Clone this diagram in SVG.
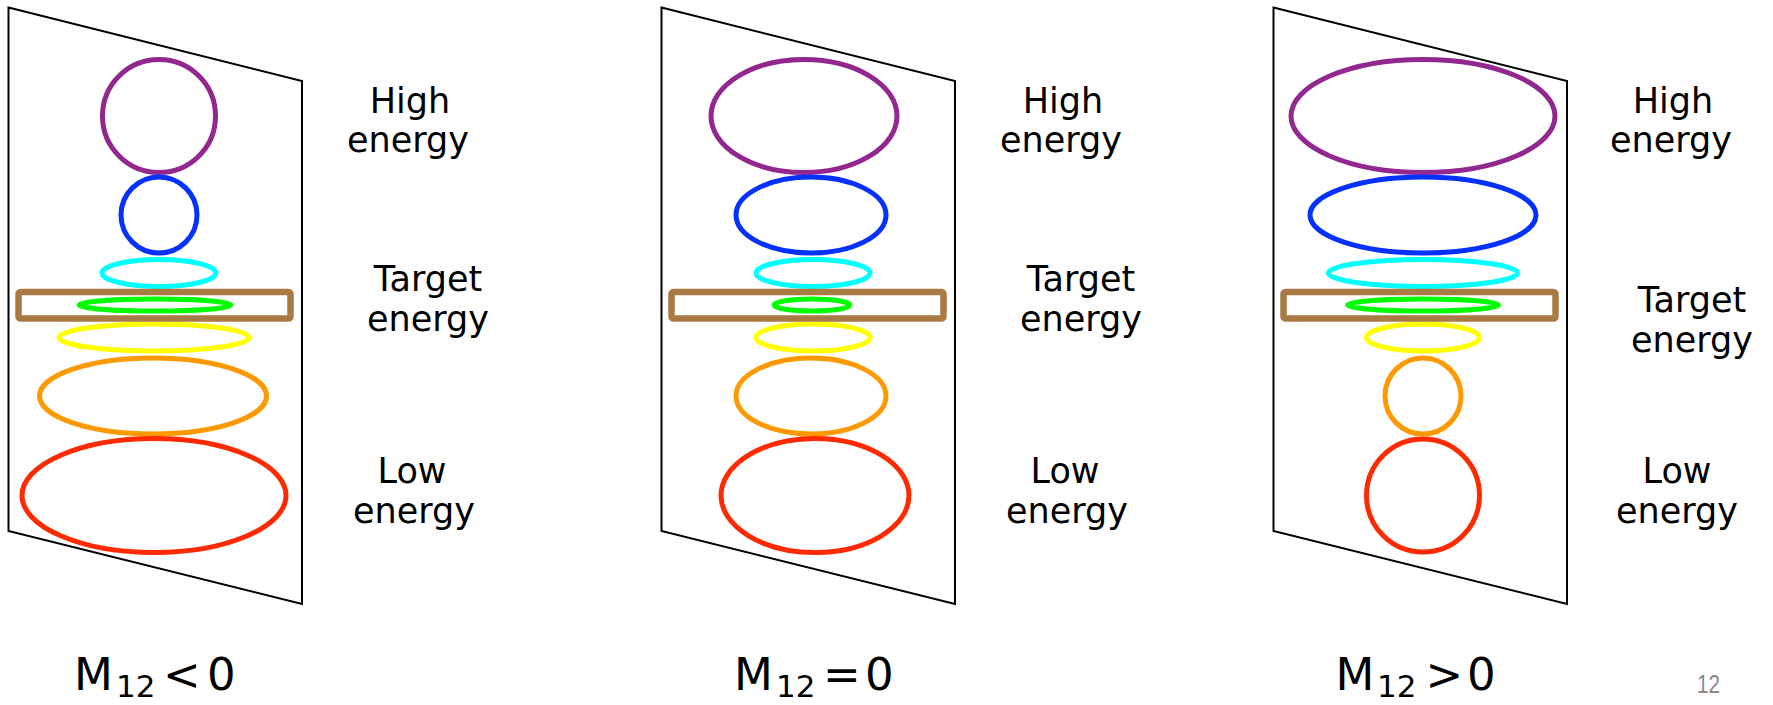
<svg xmlns="http://www.w3.org/2000/svg" width="1773" height="705" viewBox="0 0 1773 705">
<style>
.frame{fill:none;stroke:#000;stroke-width:2}
.e{fill:none;stroke-width:5}
.pu{stroke:#92278F}
.bl{stroke:#0531FF}
.cy{stroke:#00FFFF}
.gr{stroke:#00FF00}
.ye{stroke:#FFFF00}
.or{stroke:#FF9900}
.rd{stroke:#FF2A00}
.win{fill:none;stroke:#A97A43;stroke-width:6.5}
.lab{font-family:"DejaVu Sans",sans-serif;font-size:35px;fill:#000;text-anchor:middle}
.m{font-family:"DejaVu Sans",sans-serif;font-size:45px;fill:#000}
.sub{font-size:31px}
.pg{font-family:"Liberation Sans",sans-serif;font-size:26px;fill:#898989}
</style>
<rect width="1773" height="705" fill="#fff"/>

<g id="panel-neg">
  <polygon class="frame" points="8.5,7.5 302,81 302,604 8.5,531"/>
  <ellipse class="e pu" cx="159" cy="116" rx="56.5" ry="56.5"/>
  <ellipse class="e bl" cx="159" cy="215" rx="38" ry="38"/>
  <ellipse class="e cy" cx="159" cy="273" rx="57" ry="13.5"/>
  <ellipse class="e ye" cx="154" cy="337.5" rx="95" ry="13.5"/>
  <ellipse class="e or" cx="153" cy="396" rx="113.5" ry="38"/>
  <ellipse class="e rd" cx="154" cy="495.5" rx="132" ry="57"/>
  <rect class="win" x="18.5" y="292" width="272" height="26.5" rx="2"/>
  <ellipse class="e gr" cx="155" cy="305" rx="76" ry="6"/>
  <text class="lab" x="410" y="113">High</text>
  <text class="lab" x="408" y="152">energy</text>
  <text class="lab" x="428" y="291">Target</text>
  <text class="lab" x="428" y="331">energy</text>
  <text class="lab" x="412" y="483">Low</text>
  <text class="lab" x="414" y="523">energy</text>
  <text class="m" y="690"><tspan x="74">M</tspan><tspan class="sub" x="116" y="697">12</tspan><tspan x="163" y="690">&lt;</tspan><tspan x="207">0</tspan></text>
</g>

<g id="panel-zero" transform="translate(653,0)">
  <polygon class="frame" points="8.5,7.5 302,81 302,604 8.5,531"/>
  <ellipse class="e pu" cx="151" cy="116" rx="93" ry="56.5"/>
  <ellipse class="e bl" cx="158" cy="215" rx="75" ry="38"/>
  <ellipse class="e cy" cx="160" cy="273" rx="57" ry="13.5"/>
  <ellipse class="e ye" cx="160" cy="337.5" rx="57" ry="13.5"/>
  <ellipse class="e or" cx="158" cy="396" rx="75" ry="38"/>
  <ellipse class="e rd" cx="162" cy="495.5" rx="94" ry="57"/>
  <rect class="win" x="18.5" y="292" width="272" height="26.5" rx="2"/>
  <ellipse class="e gr" cx="159" cy="305" rx="38" ry="6"/>
  <text class="lab" x="410" y="113">High</text>
  <text class="lab" x="408" y="152">energy</text>
  <text class="lab" x="428" y="291">Target</text>
  <text class="lab" x="428" y="331">energy</text>
  <text class="lab" x="412" y="483">Low</text>
  <text class="lab" x="414" y="523">energy</text>
  <text class="m" y="690"><tspan x="81">M</tspan><tspan class="sub" x="123" y="697">12</tspan><tspan x="170" y="690">=</tspan><tspan x="212">0</tspan></text>
</g>

<g id="panel-pos" transform="translate(1265,0)">
  <polygon class="frame" points="8.5,7.5 302,81 302,604 8.5,531"/>
  <ellipse class="e pu" cx="158" cy="116" rx="132" ry="56.5"/>
  <ellipse class="e bl" cx="158" cy="215" rx="113" ry="38"/>
  <ellipse class="e cy" cx="158" cy="273" rx="94.5" ry="13.5"/>
  <ellipse class="e ye" cx="158" cy="337.5" rx="56.5" ry="13.5"/>
  <ellipse class="e or" cx="158" cy="396" rx="38" ry="38"/>
  <ellipse class="e rd" cx="158" cy="495.5" rx="56.5" ry="56.5"/>
  <rect class="win" x="18.5" y="292" width="272" height="26.5" rx="2"/>
  <ellipse class="e gr" cx="158" cy="305" rx="75.5" ry="6"/>
  <text class="lab" x="408" y="113">High</text>
  <text class="lab" x="406" y="152">energy</text>
  <text class="lab" x="427" y="312">Target</text>
  <text class="lab" x="427" y="352">energy</text>
  <text class="lab" x="412" y="483">Low</text>
  <text class="lab" x="412" y="523">energy</text>
  <text class="m" y="690"><tspan x="70.5">M</tspan><tspan class="sub" x="112" y="697">12</tspan><tspan x="160.5" y="690">&gt;</tspan><tspan x="202">0</tspan></text>
</g>

<text id="page-number" class="pg" x="1697" y="693" textLength="23" lengthAdjust="spacingAndGlyphs">12</text>
</svg>
